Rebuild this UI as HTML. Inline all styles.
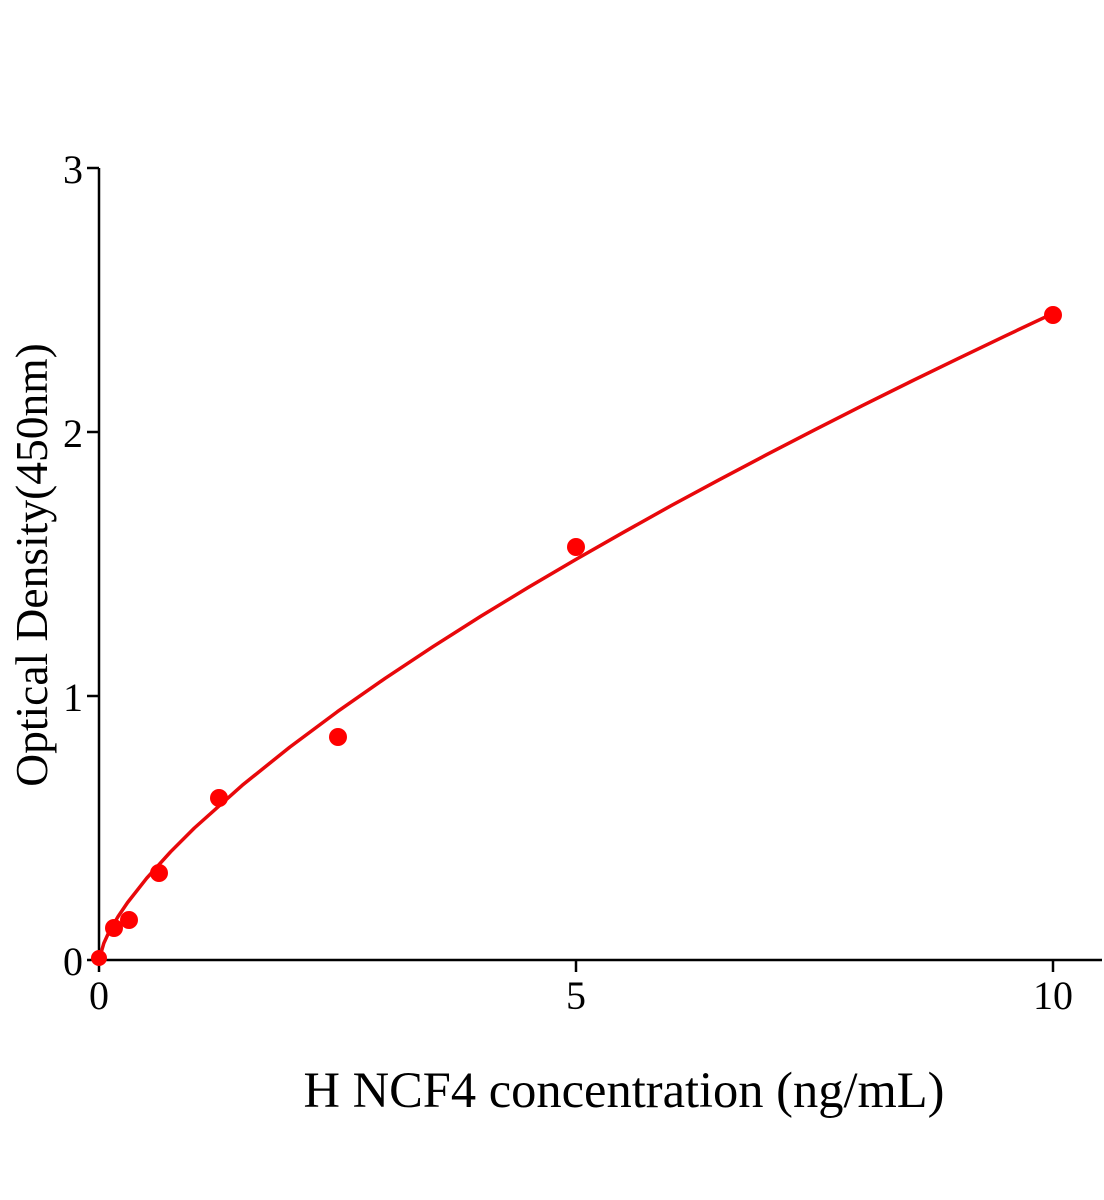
<!DOCTYPE html>
<html><head><meta charset="utf-8"><style>html,body{margin:0;padding:0;background:#fff}svg{display:block}</style></head>
<body>
<svg width="1104" height="1200" viewBox="0 0 1104 1200" xmlns="http://www.w3.org/2000/svg" font-family="Liberation Serif, serif">
<rect width="1104" height="1200" fill="#fff"/>
<g stroke="#000" stroke-width="2.5" fill="none">
<line x1="99" y1="168" x2="99" y2="972"/>
<line x1="87" y1="960" x2="1102" y2="960"/>
<line x1="87" y1="168" x2="99" y2="168"/>
<line x1="87" y1="432" x2="99" y2="432"/>
<line x1="87" y1="696" x2="99" y2="696"/>
<line x1="576" y1="960" x2="576" y2="972"/>
<line x1="1053" y1="960" x2="1053" y2="972"/>
</g>
<g font-size="40" fill="#000" text-anchor="end">
<text x="83" y="183">3</text>
<text x="83" y="447">2</text>
<text x="83" y="711">1</text>
<text x="83" y="975">0</text>
</g>
<g font-size="40" fill="#000" text-anchor="middle">
<text x="99" y="1009">0</text>
<text x="576" y="1009">5</text>
<text x="1053" y="1009">10</text>
</g>
<text x="624" y="1107" font-size="50.5" text-anchor="middle" fill="#000">H NCF4 concentration (ng/mL)</text>
<text transform="translate(47,565) rotate(-90)" font-size="45.5" text-anchor="middle" fill="#000">Optical Density(450nm)</text>
<path d="M99,960 L103.8,943.3 L108.5,933 L118.1,916.5 L127.6,902.5 L146.7,878.2 L170.6,851.8 L194.4,828 L242.1,785.4 L289.8,747.1 L337.5,711.6 L385.2,678.3 L432.9,646.7 L480.6,616.4 L528.3,587.4 L576,559.4 L623.7,532.2 L671.4,505.5 L719.1,479.8 L766.8,454.6 L814.5,429.9 L862.2,405.7 L909.9,382 L957.6,358.8 L1005.3,335.9 L1053,313.4" fill="none" stroke="#e8080b" stroke-width="3.5" stroke-linejoin="round"/>
<g fill="#f00">
<circle cx="99" cy="958" r="8"/>
<circle cx="114" cy="928" r="9"/>
<circle cx="129" cy="920" r="9"/>
<circle cx="159" cy="873" r="9"/>
<circle cx="219" cy="798" r="9"/>
<circle cx="338" cy="737" r="9"/>
<circle cx="576" cy="547" r="9"/>
<circle cx="1053" cy="315" r="9"/>
</g>
</svg>
</body></html>
